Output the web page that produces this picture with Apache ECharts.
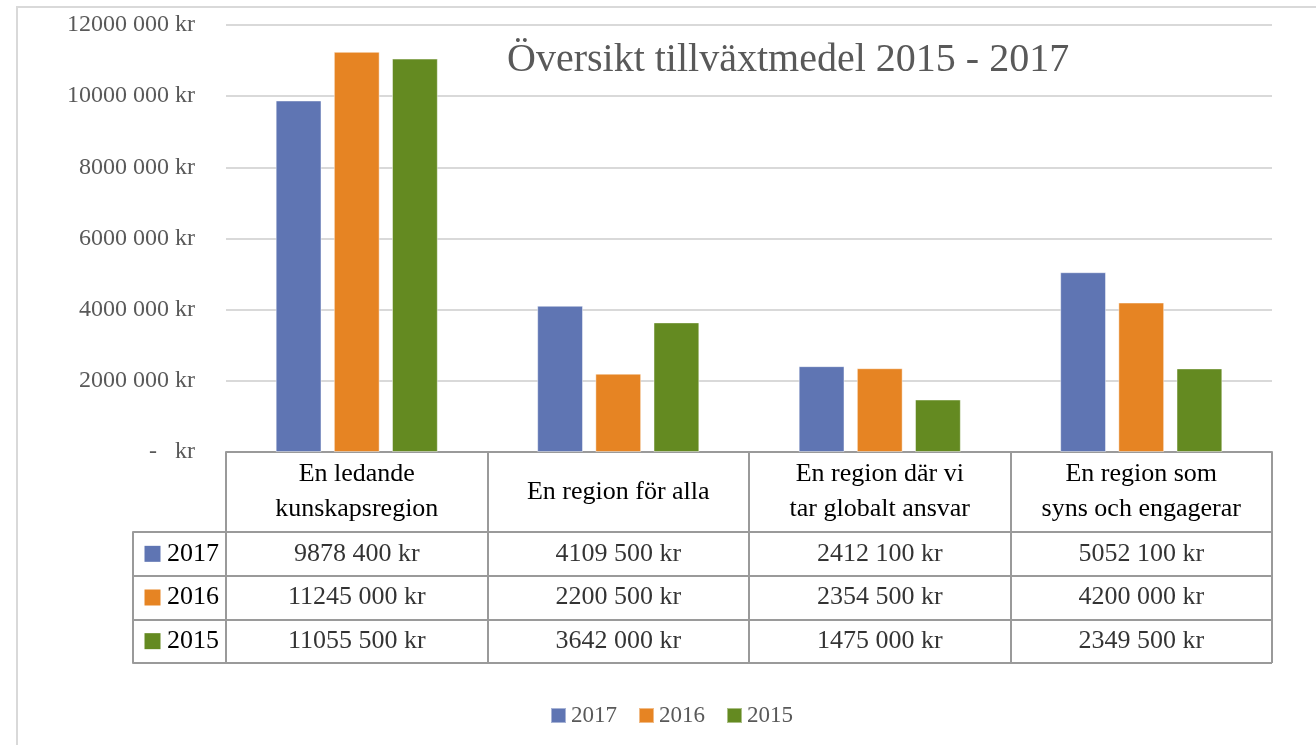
<!DOCTYPE html>
<html><head><meta charset="utf-8">
<script src="https://cdn.jsdelivr.net/npm/echarts@6/dist/echarts.min.js"></script>
<style>
html,body{margin:0;padding:0;background:#fff;overflow:hidden}
#frame{position:absolute;left:16px;top:6px;width:1400px;height:800px;border:2px solid #d9d9d9}
#chart{position:absolute;left:0;top:0;width:1316px;height:745px}
</style></head>
<body><div id="frame"></div><div id="chart"></div>
<script>
const categories = ['En ledande\nkunskapsregion', 'En region för alla', 'En region där vi\ntar globalt ansvar', 'En region som\nsyns och engagerar'];
const years = ['2017', '2016', '2015'];
const values2017 = [9878400, 4109500, 2412100, 5052100];
const values2016 = [11245000, 2200500, 2354500, 4200000];
const values2015 = [11055500, 3642000, 1475000, 2349500];
const yearColors = ['#5F75B3', '#E68423', '#648A21'];
const titleText = 'Översikt tillväxtmedel 2015 - 2017';

const seriesValues = [values2017, values2016, values2015];
const FONT = 'Liberation Serif';

function kr(v) {
  if (v === 0) return '-   kr';
  const th = Math.floor(v / 1000);
  const r = v % 1000;
  return th + ' ' + String(r).padStart(3, '0') + ' kr';
}

const chart = echarts.init(document.getElementById('chart'));
const rich = {};
years.forEach((y, i) => { rich['s' + y] = { width: 16, height: 16, backgroundColor: yearColors[i] }; });

const tableColor = '#9a9a9a';

const barSeries = years.map((y, i) => ({
  name: y, type: 'bar', xAxisIndex: 0, yAxisIndex: 0,
  data: seriesValues[i],
  barGap: '27%', barCategoryGap: '38%',
  itemStyle: { color: yearColors[i], borderColor: 'rgba(255,255,255,0.45)', borderWidth: 1 },
  emphasis: { disabled: true }
}));

const tableSeries = years.map((y, i) => ({
  name: 'tbl' + y, type: 'scatter', xAxisIndex: 1, yAxisIndex: 1,
  silent: true, symbolSize: 1,
  itemStyle: { color: 'rgba(0,0,0,0)' },
  data: seriesValues[i].map((v, c) => [c, i, v]),
  label: { show: true, position: 'inside', formatter: p => kr(p.value[2]),
           fontFamily: FONT, fontSize: 26, color: '#000' }
}));

chart.setOption({
  animation: false,
  backgroundColor: 'transparent',
  title: { text: titleText, left: 502, top: 35,
           textStyle: { fontFamily: FONT, fontSize: 40, fontWeight: 'normal', color: '#595959' } },
  legend: { data: years, left: 545, top: 699, itemWidth: 15, itemHeight: 15, itemGap: 21,
            icon: 'rect', textStyle: { fontFamily: FONT, fontSize: 23, color: '#595959' } },
  grid: [
    { left: 226, right: 44, top: 25, bottom: 293 },
    { left: 226, right: 44, top: 532, bottom: 82 }
  ],
  xAxis: [
    { type: 'category', gridIndex: 0, data: categories,
      axisLine: { show: true, lineStyle: { color: tableColor, width: 2 } },
      axisTick: { show: true, interval: 0, length: 211, lineStyle: { color: tableColor, width: 2 } },
      axisLabel: { interval: 0, margin: 40, verticalAlign: 'middle', fontFamily: FONT, fontSize: 26,
                   lineHeight: 35, color: '#000' } },
    { type: 'category', gridIndex: 1, data: categories, show: false }
  ],
  yAxis: [
    { type: 'value', gridIndex: 0, min: 0, max: 12000000, interval: 2000000,
      axisLine: { show: false }, axisTick: { show: false },
      splitLine: { lineStyle: { color: '#d9d9d9', width: 2 } },
      axisLabel: { formatter: kr, margin: 31, fontFamily: FONT, fontSize: 24, color: '#595959' } },
    { type: 'category', gridIndex: 1, position: 'left', data: years, inverse: true,
      axisLine: { show: true, lineStyle: { color: tableColor, width: 2 } },
      axisTick: { show: true, interval: 0, length: 93, lineStyle: { color: tableColor, width: 2 } },
      splitLine: { show: true, interval: 0, lineStyle: { color: tableColor, width: 2 } },
      axisLabel: { interval: 0, margin: 7, fontFamily: FONT, fontSize: 26, color: '#000',
                   formatter: v => '{s' + v + '|} ' + v, rich: rich } },
    { type: 'category', gridIndex: 1, position: 'left', data: years, inverse: true, offset: 93,
      axisLine: { show: true, lineStyle: { color: tableColor, width: 2 } },
      axisTick: { show: false }, axisLabel: { show: false }, splitLine: { show: false } }
  ],
  series: barSeries.concat(tableSeries)
});
</script>
</body></html>
